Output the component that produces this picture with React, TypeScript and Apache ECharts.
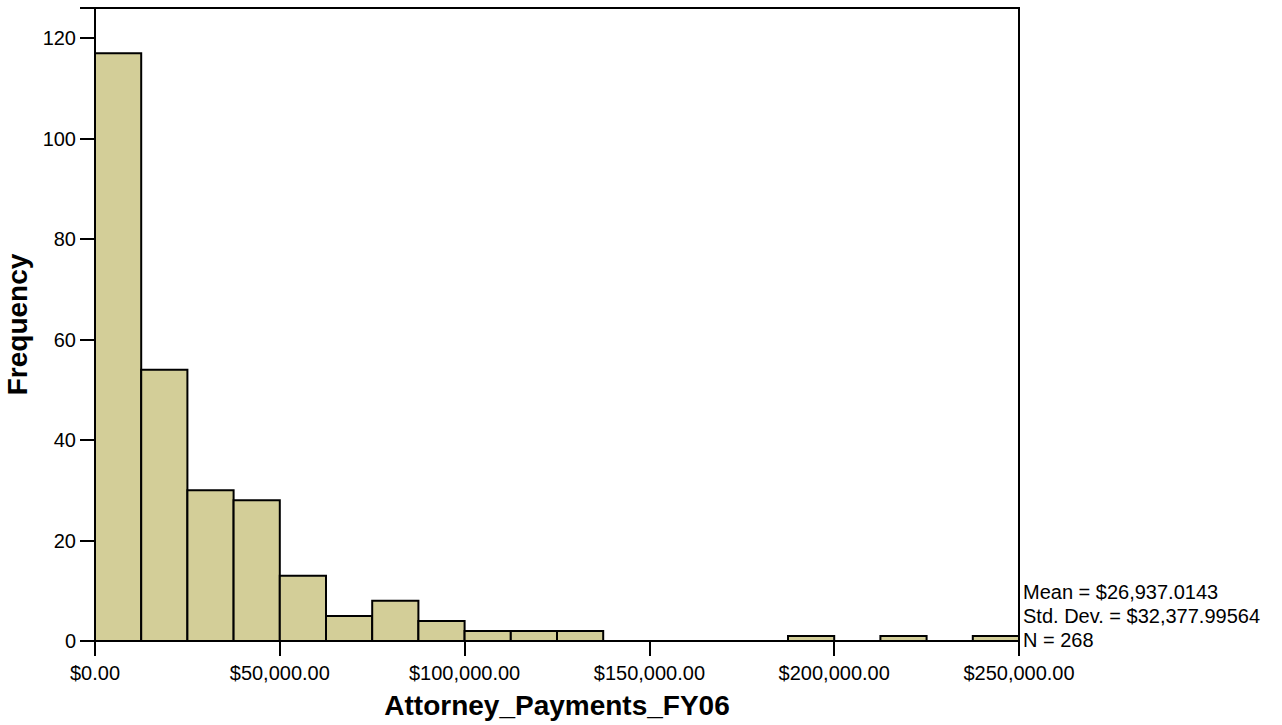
import React, { useEffect, useRef } from "react";
import * as echarts from "echarts";

const binWidth = 12500;
const counts = [117, 54, 30, 28, 13, 5, 8, 4, 2, 2, 2, 0, 0, 0, 0, 1, 0, 1, 0, 1];
const xTicks = [0, 50000, 100000, 150000, 200000, 250000];
const yTicks = [0, 20, 40, 60, 80, 100, 120];
const statLines = ["Mean = $26,937.0143", "Std. Dev. = $32,377.99564", "N = 268"];

const fmtMoney = (v: number) =>
  "$" + v.toLocaleString("en-US", { minimumFractionDigits: 2, maximumFractionDigits: 2 });

export default function App() {
  const ref = useRef<HTMLDivElement>(null);
  useEffect(() => {
    const chart = echarts.init(ref.current!, null, { renderer: "svg" });
    const data = counts.map((c, i) => [i * binWidth, (i + 1) * binWidth, c]);
    const font = "Liberation Sans, Arial, sans-serif";
    chart.setOption({
      animation: false,
      backgroundColor: "#ffffff",
      grid: {
        left: 95,
        right: 263,
        top: 8,
        bottom: 84,
        show: true,
        borderColor: "#000",
        borderWidth: 2,
        backgroundColor: "transparent",
        containLabel: false,
        outerBoundsMode: "none",
      },
      xAxis: {
        type: "value",
        min: 0,
        max: 250000,
        interval: 50000,
        name: "Attorney_Payments_FY06",
        nameLocation: "middle",
        nameGap: 50,
        nameTextStyle: { fontFamily: font, fontSize: 28, fontWeight: "bold", color: "#000" },
        axisLine: { show: true, lineStyle: { color: "#000", width: 2 } },
        axisTick: { show: true, length: 15, lineStyle: { color: "#000", width: 2 } },
        axisLabel: {
          margin: 22,
          fontFamily: font,
          fontSize: 20,
          color: "#000",
          formatter: (v: number) => (xTicks.includes(v) ? fmtMoney(v) : ""),
        },
        splitLine: { show: false },
      },
      yAxis: {
        type: "value",
        min: 0,
        max: 126,
        interval: 20,
        name: "Frequency",
        nameLocation: "middle",
        nameGap: 61,
        nameRotate: 90,
        nameTextStyle: { fontFamily: font, fontSize: 28, fontWeight: "bold", color: "#000" },
        axisLine: { show: true, lineStyle: { color: "#000", width: 2 } },
        axisTick: { show: true, length: 15, lineStyle: { color: "#000", width: 2 } },
        axisLabel: {
          margin: 19,
          fontFamily: font,
          fontSize: 20,
          color: "#000",
          formatter: (v: number) => (yTicks.includes(v) ? String(v) : ""),
        },
        splitLine: { show: false },
      },
      series: [
        {
          type: "custom",
          data,
          renderItem: (params: any, api: any) => {
            const c = api.value(2);
            if (!c) return null;
            const p0 = api.coord([api.value(0), 0]);
            const p1 = api.coord([api.value(1), c]);
            return {
              type: "rect",
              shape: { x: p0[0], y: p1[1], width: p1[0] - p0[0], height: p0[1] - p1[1] },
              style: { fill: "#d3ce98", stroke: "#000", lineWidth: 2 },
            };
          },
          encode: { x: [0, 1], y: 2 },
        },
      ],
      graphic: statLines.map((t, i) => ({
        type: "text",
        left: 1023,
        top: 582 + i * 24,
        style: { text: t, fontFamily: font, fontSize: 20, fill: "#000" },
      })),
    });
    return () => chart.dispose();
  }, []);
  return (
    <div
      ref={ref}
      style={{ position: "fixed", left: 0, top: 0, width: 1282, height: 725 }}
    />
  );
}
